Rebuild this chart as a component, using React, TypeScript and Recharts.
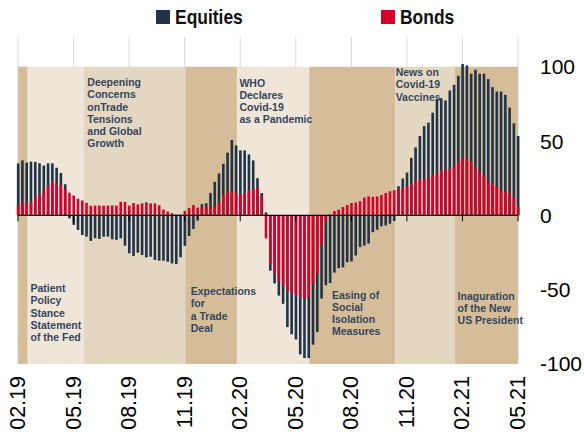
import { BarChart, Bar, XAxis, YAxis, CartesianGrid, ReferenceArea, ReferenceLine } from "recharts"

// weekly readings, Feb 2019 -> May 2021 (week index from 0)
const equities = [
  35, 37, 35.5, 36, 36, 35, 33.5, 35, 35, 32, 28.5, 21, -2, -6.4, -9.8, -13.2, -14.3, -17.2, -15.4, -15.9,
  -14.3, -14.3, -16.1, -16.5, -15.4, -20.4, -25.5, -27.4, -25.1, -26.7, -28.3, -27.8, -30, -30.5, -30.5, -31.2, -32.3, -32.8, -28.2, -20.5,
  -13.9, -9.2, -3.5, 7.6, 8.2, 15.1, 22.6, 28.2, 34.7, 42.2, 50.7, 47.1, 43.7, 43.7, 41, 37, 25, 15, 2, -37.2,
  -45.8, -54, -59.5, -75.2, -80, -83.5, -93.5, -96, -96, -87, -78.5, -56, -47, -45.5, -38.5, -35.5, -35, -31.5, -31, -27,
  -21.4, -20.3, -19, -11.3, -9.7, -7.4, -6.8, -5.6, -3.8, 19.6, 24.8, 28.8, 38.7, 45.7, 53.4, 60.1, 62.4, 69.1, 78.2, 78.8,
  77.3, 84, 87.8, 93.9, 101.8, 100.9, 95.3, 98, 95.3, 95.3, 91.7, 86.3, 83.3, 83.3, 81.1, 72.5, 61.9, 53.4,
]

const bonds = [
  6.6, 8, 8.3, 9.1, 12.4, 14.1, 16.9, 20.6, 22.8, 21.7, 20, 17.8, 15.3, 13.3, 11.2, 10, 8.4, 6.5, 6.6, 6.6,
  6.5, 6.6, 6.8, 6.6, 9.1, 9.1, 6.6, 8.3, 7.4, 8.1, 8.8, 8.1, 8.1, 6.8, 3.9, 2.6, 1.5, 0.5, 0.5, 3,
  5, 7, 5.2, 4.6, 6.1, 6.1, 6.1, 8.4, 14, 16.2, 16.2, 15.1, 14, 15.1, 16.7, 17.8, 18.5, 12.8, -15.5, -33,
  -39, -44.5, -47.5, -50.7, -52, -53.5, -55, -56, -55.5, -46, -39, -20, -4, 0.5, 2.9, 3.8, 5.6, 7, 8.3, 8.6,
  9.5, 12, 12.8, 12.4, 12.8, 13.7, 15, 16.2, 16.9, 17.6, 18.7, 19.8, 20.9, 23.2, 24.3, 24.3, 25.5, 27, 28.2, 30.4,
  31.1, 31.1, 33.1, 36, 38.3, 38.3, 36, 32, 29.3, 26.4, 22.5, 21.4, 19.1, 16.9, 15.8, 15.1, 11.9, 6.1,
]

const tickWeeks = [0, 13, 26, 39, 52, 65, 78, 91, 104, 117]
const tickLabels = ["02.19", "05.19", "08.19", "11.19", "02.20", "05.20", "08.20", "11.20", "02.21", "05.21"]
const yTicks = [-100, -50, 0, 50, 100]

// event periods (in weeks)
const bandStart = [0, 2.27, 15.34, 39.13, 51.23, 68.14, 88.26, 102.2]
const bandEnd = [2.27, 15.34, 39.13, 51.23, 68.14, 88.26, 102.2, 117]
const bandNotes = [
  [],
  ["Patient", "Policy", "Stance", "Statement", "of the Fed"],
  ["Deepening", "Concerns", "onTrade", "Tensions", "and Global", "Growth"],
  ["Expectations", "for", "a Trade", "Deal"],
  ["WHO", "Declares", "Covid-19", "as a Pandemic"],
  ["Easing of", "Social", "Isolation", "Measures"],
  ["News on", "Covid-19", "Vaccines"],
  ["Inaguration", "of the New", "US President"],
]

const data = equities.map((e, i) => ({ week: i, equities: e, bonds: bonds[i] }))

const DARK = "#d5bd9a"
const MID = "#e4d7c2"
const LIGHT = "#efe6d9"
const bandFill = [DARK, LIGHT, MID, DARK, LIGHT, DARK, MID, DARK]
const noteDx = [0, 2.8, 3.8, 5.5, 2.5, 22.8, 0.5, 2.8]
const noteDy = [0, 225.5, 19.5, 228.5, 19.8, 232, 9.4, 233]

const NAVY = "#1f3349"
const RED = "#d6002f"
const FONT = "'Liberation Sans', Arial, sans-serif"

function Note(props: any) {
  const { viewBox, lines, dx, dy } = props
  if (!viewBox || !lines.length) return null
  return (
    <text
      x={viewBox.x + dx}
      y={viewBox.y + dy}
      fontFamily={FONT}
      fontWeight="bold"
      fontSize={10.5}
      fill="#34455a"
    >
      {lines.map((l: string, i: number) => (
        <tspan key={i} x={viewBox.x + dx} dy={i === 0 ? 0 : 12.2}>
          {l}
        </tspan>
      ))}
    </text>
  )
}

function DateTick(props: any) {
  const { x, y, payload } = props
  const label = tickLabels[tickWeeks.indexOf(payload.value)]
  return (
    <text
      x={x}
      y={y}
      transform={`rotate(-90 ${x} ${y})`}
      textAnchor="end"
      dominantBaseline="central"
      fontFamily={FONT}
      fontSize={21.5}
      fill="#000"
    >
      {label}
    </text>
  )
}

function LegendRow() {
  const item = (left: number, color: string, name: string) => (
    <div
      style={{
        position: "absolute",
        left,
        top: 5,
        display: "flex",
        alignItems: "center",
        fontFamily: FONT,
        fontWeight: "bold",
        fontSize: 21,
        lineHeight: "24px",
        color: "#111",
        whiteSpace: "nowrap",
      }}
    >
      <span style={{ display: "inline-block", width: 14, height: 14, background: color, marginRight: 5 }} />
      <span style={{ display: "inline-block", transform: "scaleX(0.83)", transformOrigin: "left center" }}>
        {name}
      </span>
    </div>
  )
  return (
    <div style={{ position: "absolute", left: 0, top: 0, width: 584, height: 34 }}>
      {item(156, NAVY, "Equities")}
      {item(381, RED, "Bonds")}
    </div>
  )
}

export default function App() {
  return (
    <div style={{ position: "absolute", left: 0, top: 0, width: 584, height: 436, background: "#fff" }}>
      <BarChart
        width={584}
        height={436}
        data={data}
        margin={{ top: 37, right: 0, left: 18, bottom: 0 }}
        barGap={-2.6}
      >
        <CartesianGrid horizontal={false} stroke="#dadada" />
        {bandStart.map((s, i) => (
          <ReferenceArea
            key={`band-${i}`}
            x1={s}
            x2={bandEnd[i]}
            y1={-100}
            y2={100}
            fill={bandFill[i]}
            fillOpacity={1}
            stroke="none"
          />
        ))}
        {bandStart.map((s, i) => (
          <ReferenceArea
            key={`note-${i}`}
            x1={s}
            x2={bandEnd[i]}
            y1={-100}
            y2={100}
            fill="none"
            fillOpacity={0}
            stroke="none"
            label={<Note lines={bandNotes[i]} dx={noteDx[i]} dy={noteDy[i]} />}
          />
        ))}
        <XAxis
          dataKey="week"
          type="number"
          domain={[0, 117]}
          ticks={tickWeeks}
          interval={0}
          axisLine={false}
          tickLine={false}
          tickSize={0}
          tickMargin={12}
          height={72}
          tick={<DateTick />}
        />
        <YAxis
          orientation="right"
          domain={[-100, 120]}
          ticks={yTicks}
          interval={0}
          axisLine={false}
          tickLine={false}
          tickSize={0}
          tickMargin={22}
          width={66}
          tick={{ fontSize: 21, fill: "#000", fontFamily: FONT }}
        />
        <Bar dataKey="equities" fill={NAVY} barSize={2.6} isAnimationActive={false} />
        <Bar dataKey="bonds" fill={RED} barSize={2.6} isAnimationActive={false} />
        <ReferenceLine y={0} stroke="#000" strokeWidth={1.3} />
        {tickWeeks.map((w) => (
          <ReferenceLine
            key={w}
            segment={[{ x: w, y: 0 }, { x: w, y: -4 }]}
            stroke="#000"
            strokeWidth={1}
          />
        ))}
      </BarChart>
      <LegendRow />
    </div>
  )
}
